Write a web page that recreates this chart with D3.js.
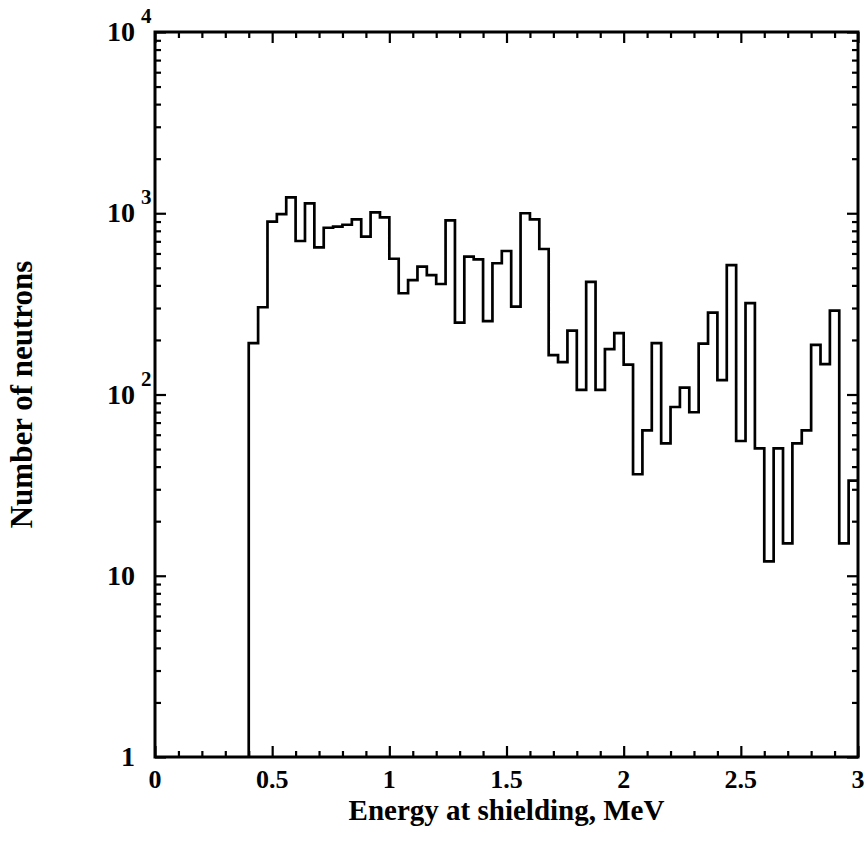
<!DOCTYPE html>
<html>
<head>
<meta charset="utf-8">
<script src="https://cdn.jsdelivr.net/npm/d3@7/dist/d3.min.js"></script>
<style>
  body { margin: 0; background: #fff; }
  text { font-family: "Liberation Serif", "Times New Roman", serif; font-weight: bold; fill: #000; }
</style>
</head>
<body>
<script>
// histogram bin edges (MeV), 65 bins
var binEdges = [0.40, 0.44, 0.48, 0.52, 0.56, 0.60, 0.64, 0.68, 0.72, 0.76,
                0.80, 0.84, 0.88, 0.92, 0.96, 1.00, 1.04, 1.08, 1.12, 1.16,
                1.20, 1.24, 1.28, 1.32, 1.36, 1.40, 1.44, 1.48, 1.52, 1.56,
                1.60, 1.64, 1.68, 1.72, 1.76, 1.80, 1.84, 1.88, 1.92, 1.96,
                2.00, 2.04, 2.08, 2.12, 2.16, 2.20, 2.24, 2.28, 2.32, 2.36,
                2.40, 2.44, 2.48, 2.52, 2.56, 2.60, 2.64, 2.68, 2.72, 2.76,
                2.80, 2.84, 2.88, 2.92, 2.96, 3.00];

// number of neutrons per bin
var counts = [192, 303, 899, 990, 1225, 703, 1135, 649, 832, 843,
              864, 926, 743, 1012, 950, 561, 362, 428, 508, 456,
              407, 914, 249, 576, 557, 254, 530, 619, 305, 1000,
              926, 635, 165, 151, 225, 106, 418, 106, 178, 218,
              146, 36.3, 63.4, 192, 53.8, 85.3, 109, 79.8, 191, 283,
              120, 518, 55.4, 319, 50.5, 12.0, 50.5, 15.1, 53.8, 63.4,
              188, 147, 290, 15.1, 33.5];

var xTicks = [0, 0.5, 1, 1.5, 2, 2.5, 3];
var xTickLabels = ["0", "0.5", "1", "1.5", "2", "2.5", "3"];
var yTicks = [1, 10, 100, 1000, 10000];
var yTickBase = ["1", "10", "10", "10", "10"];
var yTickExp = ["", "", "2", "3", "4"];

var width = 868, height = 850;
var margin = {left: 155, right: 10, top: 32, bottom: 93};
var w = width - margin.left - margin.right;
var h = height - margin.top - margin.bottom;

var svg = d3.select("body").append("svg").attr("width", width).attr("height", height);
var g = svg.append("g").attr("transform", "translate(" + margin.left + "," + margin.top + ")");

var x = d3.scaleLinear().domain([0, 3]).range([0, w]);
var y = d3.scaleLog().domain([1, 10000]).range([h, 0]);

var xMinor = d3.range(0, 3.0001, 0.1).map(function(v){ return +v.toFixed(1); })
               .filter(function(v){ return xTicks.indexOf(v) < 0; });
var yMinor = [];
yTicks.slice(0, -1).forEach(function(d){
  for (var k = 2; k <= 9; k++) yMinor.push(d * k);
});

function ticks(axisFn, scale, values, size, tr) {
  var a = g.append("g").attr("transform", tr || null)
    .call(axisFn(scale).tickValues(values).tickSize(size).tickFormat(""));
  a.select(".domain").remove();
  a.selectAll("line").attr("stroke", "#000").attr("stroke-width", 2.2);
}
// bottom & top (ticks pointing inward)
ticks(d3.axisTop, x, xTicks, 11, "translate(0," + h + ")");
ticks(d3.axisTop, x, xMinor, 6, "translate(0," + h + ")");
ticks(d3.axisBottom, x, xTicks, 11);
ticks(d3.axisBottom, x, xMinor, 6);
// left & right
ticks(d3.axisRight, y, yTicks, 11);
ticks(d3.axisRight, y, yMinor, 6);
ticks(d3.axisLeft, y, yTicks, 11, "translate(" + w + ",0)");
ticks(d3.axisLeft, y, yMinor, 6, "translate(" + w + ",0)");

// histogram
var pts = [[x(binEdges[0]), y(1)]];
counts.forEach(function(c, i){
  pts.push([x(binEdges[i]), y(c)]);
  pts.push([x(binEdges[i + 1]), y(c)]);
});
g.append("path")
  .attr("d", d3.line()(pts))
  .attr("fill", "none")
  .attr("stroke", "#000")
  .attr("stroke-width", 2.7)
  .attr("stroke-linejoin", "miter");

// frame
g.append("rect").attr("width", w).attr("height", h)
  .attr("fill", "none").attr("stroke", "#000").attr("stroke-width", 3);

// x tick labels
g.selectAll(".xl").data(xTicks).enter().append("text")
  .attr("x", function(d){ return x(d); })
  .attr("y", h + 31)
  .attr("text-anchor", "middle")
  .style("font-size", "26px")
  .text(function(d, i){ return xTickLabels[i]; });

// y tick labels
yTicks.forEach(function(d, i){
  g.append("text")
    .attr("x", -20)
    .attr("y", y(d) + 9)
    .attr("text-anchor", "end")
    .style("font-size", "28px")
    .text(yTickBase[i]);
  if (yTickExp[i]) {
    g.append("text")
      .attr("x", -14)
      .attr("y", y(d) - 9)
      .style("font-size", "21px")
      .text(yTickExp[i]);
  }
});

// axis titles
svg.append("text")
  .attr("x", margin.left + w / 2)
  .attr("y", 820)
  .attr("text-anchor", "middle")
  .style("font-size", "29px")
  .text("Energy at shielding, MeV");

svg.append("text")
  .attr("transform", "translate(32," + (margin.top + h / 2) + ") rotate(-90)")
  .attr("text-anchor", "middle")
  .style("font-size", "31px")
  .text("Number of neutrons");
</script>
</body>
</html>
